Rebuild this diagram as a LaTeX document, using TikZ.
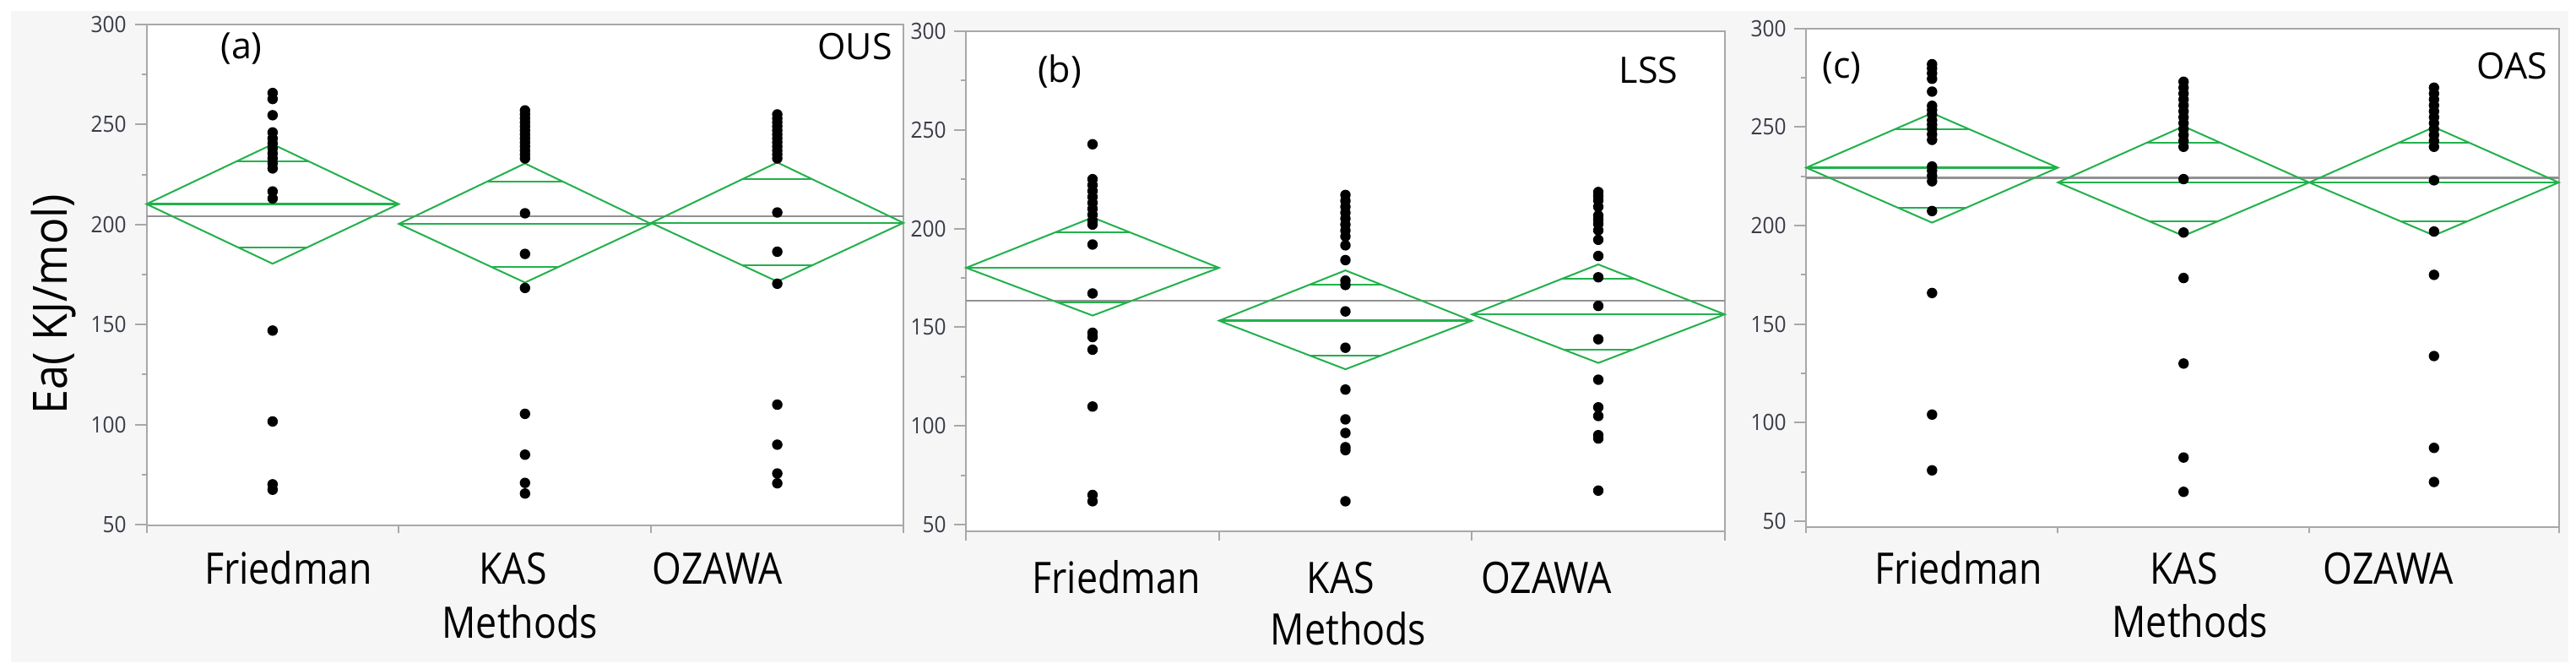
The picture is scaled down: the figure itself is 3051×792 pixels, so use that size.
\documentclass[tikz,border=0pt]{standalone}
\usepackage{fontspec}
\setmainfont{Open Sans}
\newfontfamily\catfont{Open Sans}[FakeStretch=0.87]
\newfontfamily\eafont{Open Sans}[FakeStretch=0.93]
\newfontfamily\tickfont{Open Sans}[FakeStretch=0.92]
\definecolor{jmpgreen}{RGB}{34,177,76}
\definecolor{framegray}{RGB}{168,168,168}
\definecolor{meangray}{RGB}{145,145,145}
\definecolor{bggray}{RGB}{246,246,246}
\definecolor{ticktext}{RGB}{58,60,72}
\tikzset{
  diam/.style={draw=jmpgreen, line width=0.5pt, line join=miter},
  ovl/.style={draw=jmpgreen, line width=0.5pt},
  meanln/.style={draw=jmpgreen, line width=0.6pt},
  grand/.style={draw=meangray, line width=0.6pt},
  frame/.style={draw=framegray, line width=0.5pt, fill=white},
  axisln/.style={draw=framegray, line width=0.5pt},
  ticklab/.style={font=\tickfont\fontsize{6.65}{8}\selectfont, text=ticktext, anchor=east, inner sep=0pt},
  catlab/.style={font=\catfont\fontsize{12.85}{15}\selectfont, anchor=base, inner sep=0pt},
  panlab/.style={font=\fontsize{10.75}{13}\selectfont, inner sep=0pt},
  ealab/.style={font=\eafont\fontsize{14}{17}\selectfont, inner sep=0pt, rotate=90},
}
\newcommand{\panelframe}[1]{%
  \draw[frame] (\pL,\fT) rectangle (\pR,\fB);
  \foreach \t in {50,100,...,300}{
    \draw[axisln] (\pL,{\off-\fac*\t}) -- ++(-14,0);
    \node[ticklab, name=#1t\t] at ({\pL-23},{\off-\fac*\t}) {\t};
  }
  \foreach \t in {75,125,...,275}{
    \draw[axisln] (\pL,{\off-\fac*\t}) -- ++(-6,0);
  }
  \foreach \xx in {\pL,\cA,\cB,\pR}{
    \draw[axisln] (\xx,\fB) -- ++(0,\ext);
  }
  \draw[grand] (\pL,{\off-\fac*\gm}) -- (\pR,{\off-\fac*\gm});
}
% #1 xl, #2 xr, #3 mean, #4 top, #5 bottom, #6 upper overlap, #7 lower overlap
\newcommand{\dmd}[7]{%
  \pgfmathsetmacro\xc{(#1+#2)/2}
  \pgfmathsetmacro\hw{(#2-#1)/2}
  \pgfmathsetmacro\ym{\off-\fac*#3}
  \pgfmathsetmacro\yt{\off-\fac*#4}
  \pgfmathsetmacro\yb{\off-\fac*#5}
  \pgfmathsetmacro\yoa{\off-\fac*#6}
  \pgfmathsetmacro\yob{\off-\fac*#7}
  \pgfmathsetmacro\wa{\hw*(1-(#6-#3)/(#4-#3))}
  \pgfmathsetmacro\wb{\hw*(1-(#3-#7)/(#3-#5))}
  \draw[diam] (#1,\ym) -- (\xc,\yt) -- (#2,\ym) -- (\xc,\yb) -- cycle;
  \draw[meanln] (#1,\ym) -- (#2,\ym);
  \draw[ovl] ({\xc-\wa},\yoa) -- ({\xc+\wa},\yoa);
  \draw[ovl] ({\xc-\wb},\yob) -- ({\xc+\wb},\yob);
}
\newcommand{\dotcol}[2]{%
  \foreach \v in {#2}{\fill[black] (#1,{\off-\fac*\v}) circle[radius=1.55pt];}
}
\begin{document}
\begin{tikzpicture}[x=0.25pt, y=-0.25pt]
\useasboundingbox (0,0) rectangle (3051,792);
\fill[white] (0,0) rectangle (3051,792);
\fill[bggray] (13,13) rectangle (3042,784);

% ---------------- panel (a) ----------------
\def\pL{173.5}\def\cA{472.3}\def\cB{771.2}\def\pR{1070}
\def\fT{28.5}\def\fB{622}\def\off{739.68}\def\fac{2.3696}\def\gm{204.1}\def\ext{9}
\panelframe{a}
\dmd{173.5}{472.3}{210.2}{240.1}{180.4}{231.7}{188.6}
\dmd{472.3}{771.2}{200.3}{230.5}{171}{221.6}{178.7}
\dmd{771.2}{1070}{200.8}{231}{171.5}{222.6}{179.6}
\dotcol{322.9}{265.7,262.7,254.6,246,243,240.5,238,235.5,233,230.5,228,216.5,213,147,101.6,70.2,67.5}
\dotcol{621.8}{257,255,253,251,249,247,245,243,241,239,237,235,233,205.6,185.3,168.3,105.4,85,70.9,65.6}
\dotcol{920.6}{255,253,251,249,247,245,243,241,239,237,235,233,206,186.4,170.4,110,90,75.6,70.7}
\node[panlab] (la) at (286,58) {(a)};
\node[panlab] (ous) at (1012.5,55.5) {OUS};
\node[catlab] (fa) at (341.7,691.7) {Friedman};
\node[catlab] (ka) at (607.5,691.7) {KAS};
\node[catlab] (oa) at (850,691.7) {OZAWA};
\node[catlab] (ma) at (615.8,755) {Methods};
\node[ealab] (ea) at (63.5,360) {Ea( KJ/mol)};

% ---------------- panel (b) ----------------
\def\pL{1144.3}\def\cA{1443.8}\def\cB{1743.3}\def\pR{2042.7}
\def\fT{36.7}\def\fB{629}\def\off{737.82}\def\fac{2.3364}\def\gm{163.4}\def\ext{11}
\panelframe{b}
\dmd{1144.3}{1443.8}{180.1}{205.6}{155.9}{198}{162.4}
\dmd{1443.8}{1743.3}{153.3}{178.8}{128.7}{171.4}{135.6}
\dmd{1743.3}{2042.7}{156.5}{181.8}{131.9}{174.7}{138.8}
\dotcol{1294}{242.7,225,222,219,216,213,210,207,204,202,191.9,167.1,147.2,145,138.6,109.8,65,61.8}
\dotcol{1593.5}{217,214,211,208,205,202,199,196,191.5,184,173.6,171.4,158,139.6,118.4,103.3,96.4,89.2,87.7,61.8}
\dotcol{1893}{218.5,216.4,214.2,211,206.6,204.5,202.3,199.1,194.3,186.1,175.3,160.8,143.9,123.4,109.4,105,95.3,93.6,67.2}
\node[panlab] (lb) at (1255,84.6) {(b)};
\node[panlab] (lss) at (1952.7,83.3) {LSS};
\node[catlab] (fb) at (1322,702) {Friedman};
\node[catlab] (kb) at (1588,702) {KAS};
\node[catlab] (ob) at (1831.5,702) {OZAWA};
\node[catlab] (mb) at (1597,763) {Methods};

% ---------------- panel (c) ----------------
\def\pL{2139.3}\def\cA{2437.3}\def\cB{2735}\def\pR{3030.6}
\def\fT{33.8}\def\fB{624}\def\off{733.64}\def\fac{2.3328}\def\gm{224.2}\def\ext{7}
\panelframe{c}
\dmd{2139.3}{2437.3}{229.4}{257.1}{201.5}{248.9}{209.1}
\dmd{2437.3}{2735}{221.9}{250.4}{194.8}{242}{202.2}
\dmd{2735}{3030.6}{221.9}{250}{195}{242}{202.2}
\dotcol{2288.3}{281.9,279.8,277.3,274.5,268,260.8,258.7,256.5,253.5,251.3,249.1,246.3,243.5,230,227.9,225.3,222.5,207.4,165.8,104.1,75.8}
\dotcol{2586.2}{273,270,267,264,261,258,255,252,249,246,243,240,223.6,196.5,173.4,130,82.3,64.9}
\dotcol{2882.8}{270,267,264,261,258,255,252,249,246,243,240,223,197,175,133.8,87.2,69.9}
\node[panlab] (lc) at (2181.4,80.8) {(c)};
\node[panlab] (oas) at (2975.6,78.3) {OAS};
\node[catlab] (fc) at (2319.7,691) {Friedman};
\node[catlab] (kc) at (2586.6,691) {KAS};
\node[catlab] (oc) at (2829,691) {OZAWA};
\node[catlab] (mc) at (2593.8,754) {Methods};
\end{tikzpicture}
\end{document}
